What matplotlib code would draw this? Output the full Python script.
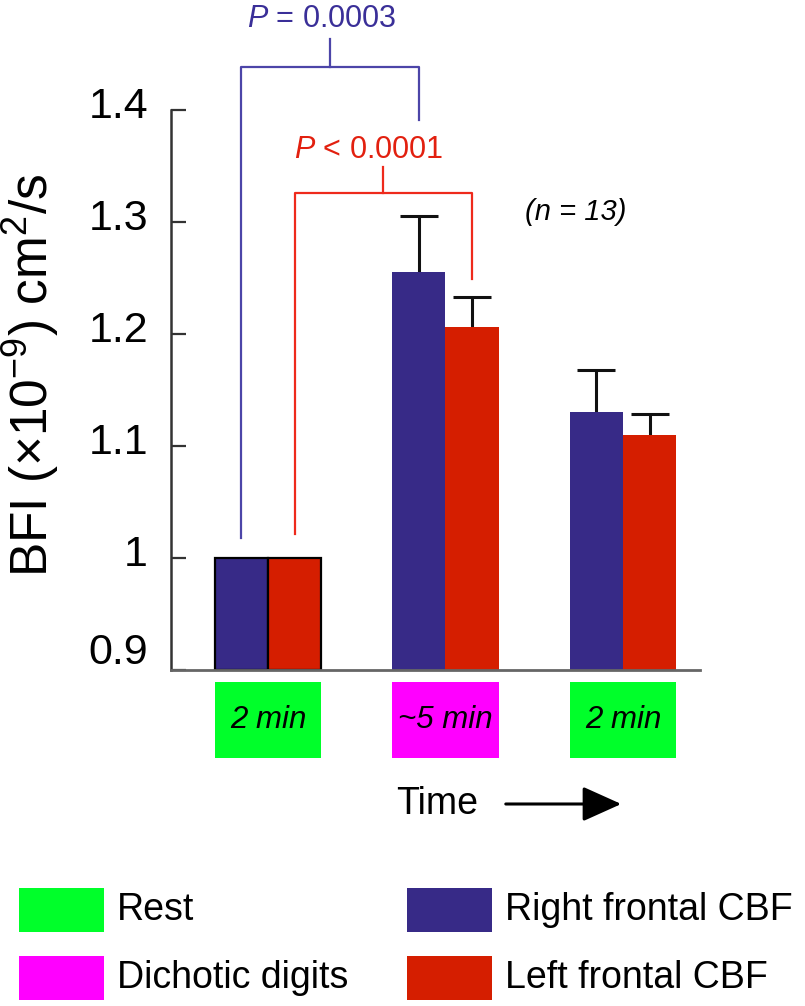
import matplotlib
matplotlib.use("Agg")
import matplotlib.pyplot as plt
from matplotlib.patches import Rectangle
from matplotlib.transforms import ScaledTranslation, blended_transform_factory
import numpy as np

# ---------------- data ----------------
periods = ["Rest", "Dichotic digits", "Rest"]
period_labels = ["2 min", "~5 min", "2 min"]
right_cbf = [1.0, 1.255, 1.130]
left_cbf = [1.0, 1.206, 1.110]
right_err = [0.0, 0.050, 0.038]
left_err = [0.0, 0.027, 0.019]
yticks = [0.9, 1.0, 1.1, 1.2, 1.3, 1.4]
ytick_labels = ["0.9", "1", "1.1", "1.2", "1.3", "1.4"]
p_texts = ["P = 0.0003", "P < 0.0001"]
n_text = "(n = 13)"

# ---------------- style ----------------
BLUE = "#372A87"
RED = "#D51E00"
GREEN = "#00FF2A"
MAGENTA = "#FF00FF"
BLUE_LINE = "#4C45A8"
RED_LINE = "#EE2A1C"
BLUE_TXT = "#3A2F98"
RED_TXT = "#E2200F"

plt.rcParams["font.family"] = ["Liberation Sans", "DejaVu Sans"]
plt.rcParams["mathtext.fontset"] = "custom"
plt.rcParams["mathtext.rm"] = "Liberation Sans"
plt.rcParams["mathtext.it"] = "Liberation Sans:italic"
plt.rcParams["mathtext.default"] = "regular"

fig = plt.figure(figsize=(8.05, 10.06), dpi=100)
W, H = 805, 1006
ax_l, ax_r, ax_t, ax_b = 171, 700, 110, 670
ax = fig.add_axes([ax_l / W, 1 - ax_b / H, (ax_r - ax_l) / W, (ax_b - ax_t) / H])

x = np.arange(len(periods))
bw = 0.3
xr = x - bw / 2
xl = x + bw / 2
edge = ["black" if i == 0 else "none" for i in range(len(x))]
ax.bar(xr, np.array(right_cbf) - 0.9, bw, bottom=0.9, color=BLUE,
       edgecolor=edge, linewidth=1.6, zorder=2)
ax.bar(xl, np.array(left_cbf) - 0.9, bw, bottom=0.9, color=RED,
       edgecolor=edge, linewidth=1.6, zorder=2)

for xs, vals, errs in [(xr, right_cbf, right_err), (xl, left_cbf, left_err)]:
    e = np.array(errs)
    m = e > 0
    _, caps, _ = ax.errorbar(xs[m], np.array(vals)[m],
                             yerr=[np.zeros(m.sum()), e[m]],
                             fmt="none", ecolor="#111111", elinewidth=2.2,
                             capsize=13.5, capthick=2.2, zorder=1)
    caps[0].set_visible(False)

ax.set_xlim(-0.546, 2.434)
ax.set_ylim(0.9, 1.4)
ax.set_xticks([])
ax.set_yticks(yticks)
ax.set_yticklabels(ytick_labels, fontsize=31)
ax.tick_params(axis="y", direction="in", length=11, width=1.6,
               color="#333333", pad=16.5)
for sp in ["top", "right"]:
    ax.spines[sp].set_visible(False)
ax.spines["left"].set_color("#333333")
ax.spines["left"].set_linewidth(1.8)
ax.spines["bottom"].set_color("#666666")
ax.spines["bottom"].set_linewidth(2.0)

# shift tick labels upward slightly
for val, lab in zip(yticks, ax.get_yticklabels()):
    dy = 22 if val == 0.9 else 7
    lab.set_transform(lab.get_transform() + ScaledTranslation(0, dy / 100, fig.dpi_scale_trans))

ax.set_ylabel("BFI (×10$^{-9}$) cm$^{2}$/s", fontsize=37, va="center")
ax.yaxis.set_label_coords((31 - ax_l) / (ax_r - ax_l), (ax_b - 375) / (ax_b - ax_t))

# ---------------- significance brackets ----------------
def bracket(x1, x2, ytop, y1, y2, ystem, color, text, tx, ty, tcolor):
    kw = dict(color=color, lw=1.6, clip_on=False, zorder=3)
    ax.plot([x1, x1, x2, x2], [y1, ytop, ytop, y2], **kw)
    xm = (x1 + x2) / 2
    ax.plot([xm, xm], [ytop, ystem], **kw)
    pt = text.split(" ", 1)
    ax.text(tx, ty, "$\\it{P}$ " + pt[1], color=tcolor, fontsize=22,
            ha="center", va="center", clip_on=False)

bracket(xr[0], xr[1], 1.4384, 1.018, 1.391, 1.4634, BLUE_LINE,
        p_texts[0], (322 - 268) / 177.5, 0.9 + (670 - 19) / 1120, BLUE_TXT)
bracket(xl[0], xl[1], 1.3259, 1.0214, 1.249, 1.349, RED_LINE,
        p_texts[1], (369 - 268) / 177.5, 0.9 + (670 - 150) / 1120, RED_TXT)

ax.text((576 - 268) / 177.5, 0.9 + (670 - 212) / 1120, n_text, fontsize=21,
        style="italic", ha="center", va="center")

# ---------------- period boxes ----------------
trans = blended_transform_factory(ax.transData, ax.transAxes)
box_cols = [GREEN if p == "Rest" else MAGENTA for p in periods]
box_w = 0.6
by0 = (ax_b - 758) / (ax_b - ax_t)
bh = (758 - 682) / (ax_b - ax_t)
for xi, lab, c in zip(x, period_labels, box_cols):
    ax.add_patch(Rectangle((xi - box_w / 2, by0), box_w, bh, transform=trans,
                           facecolor=c, edgecolor="none", clip_on=False))
    ax.text(xi, by0 + bh / 2, lab, transform=trans, fontsize=22.5,
            style="italic", ha="center", va="center", clip_on=False)

# Time arrow
fig.text(437 / W, 1 - 804 / H, "Time", fontsize=27, ha="center", va="center")
fig.add_artist(matplotlib.patches.FancyArrowPatch(
    (503 / W, 1 - 804 / H), (624 / W, 1 - 804 / H), transform=fig.transFigure,
    arrowstyle="-|>,head_length=1.0,head_width=0.45", mutation_scale=24,
    color="black", lw=2.2))

# ---------------- legend ----------------
leg_items = [("Rest", GREEN, 19, 888), ("Dichotic digits", MAGENTA, 19, 956),
             ("Right frontal CBF", BLUE, 407, 888), ("Left frontal CBF", RED, 407, 956)]
for lab, c, lx, ly in leg_items:
    fig.add_artist(Rectangle((lx / W, 1 - (ly + 44) / H), 85 / W, 44 / H,
                             transform=fig.transFigure, facecolor=c, edgecolor="none"))
    fig.text((lx + 98) / W, 1 - (ly + 22) / H, lab, fontsize=27, ha="left", va="center")

fig.savefig("out.png", dpi=100)
